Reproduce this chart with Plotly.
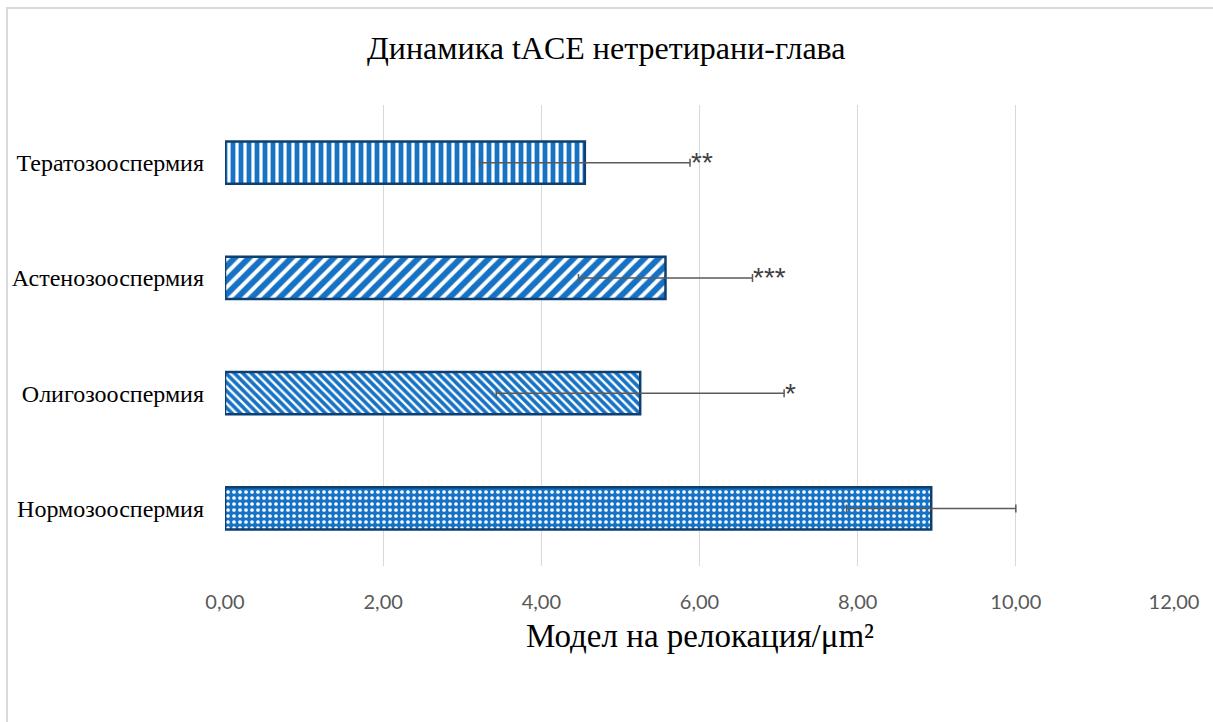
import plotly.graph_objects as go

# Groups, bottom to top as drawn on the category axis
categories = ["Нормозооспермия", "Олигозооспермия", "Астенозооспермия", "Тератозооспермия"]
means = [8.93, 5.25, 5.57, 4.55]
errors = [1.07, 1.82, 1.10, 1.33]
significance = ["", "*", "***", "**"]
x_ticks = [0, 2, 4, 6, 8, 10, 12]
x_tick_labels = ["0,00", "2,00", "4,00", "6,00", "8,00", "10,00", "12,00"]

title_text = "Динамика tACE нетретирани-глава"
x_title_text = "Модел на релокация/μm²"

W, H = 1213, 722
L, R, T, B = 225, 39, 105, 156
plot_w = W - L - R
plot_h = H - T - B

BLUE = "#1672C4"
EDGE = "#0D3F70"

fig = go.Figure()

fig.add_trace(go.Bar(
    y=categories,
    x=means,
    orientation="h",
    marker=dict(
        color=BLUE,
        line=dict(color=EDGE, width=2.5),
        pattern=dict(
            shape=[".", "\\", "/", "|"],
            size=[6, 6, 10, 8],
            solidity=[0.3, 0.4, 0.4, 0.4],
            fgcolor="white",
            bgcolor=BLUE,
            fillmode="replace",
        ),
    ),
    error_x=dict(
        type="data",
        array=errors,
        visible=True,
        color="#5A5A5A",
        thickness=1.5,
        width=4,
    ),
    hoverinfo="x+y",
    showlegend=False,
))

# Significance markers next to the upper error caps
for cat, m, e, s in zip(categories, means, errors, significance):
    if s:
        fig.add_annotation(
            x=m + e, y=cat, xref="x", yref="y",
            text=s, showarrow=False,
            xanchor="left", yanchor="middle",
            xshift=-1, yshift=0,
            font=dict(family="Liberation Sans, Arial", size=28, color="#404040"),
        )

# Chart title, centred on the whole chart area
fig.add_annotation(
    x=(W / 2 - L) / plot_w, y=(H - B - 48) / plot_h,
    xref="paper", yref="paper",
    text=title_text, showarrow=False,
    xanchor="center", yanchor="middle",
    font=dict(family="Liberation Serif, Times New Roman", size=32, color="#000000"),
)

# Value axis title
fig.add_annotation(
    x=0.5, y=(H - B - 636) / plot_h,
    xref="paper", yref="paper",
    text=x_title_text, showarrow=False,
    xanchor="center", yanchor="middle",
    font=dict(family="Liberation Serif, Times New Roman", size=33, color="#000000"),
)

# Light chart-area frame
fig.add_shape(
    type="rect", xref="paper", yref="paper",
    x0=(7 - L) / plot_w, x1=(W + 20 - L) / plot_w,
    y0=(H - B - (H + 20)) / plot_h, y1=(H - B - 8) / plot_h,
    line=dict(color="#D9D9D9", width=2),
    fillcolor="rgba(0,0,0,0)",
    layer="below",
)

fig.update_layout(
    width=W, height=H,
    margin=dict(l=L, r=R, t=T, b=B, autoexpand=False),
    paper_bgcolor="white",
    plot_bgcolor="white",
    bargap=0.635,
    xaxis=dict(
        range=[0, 12],
        tickvals=x_ticks,
        ticktext=x_tick_labels,
        showgrid=True,
        gridcolor="#D9D9D9",
        gridwidth=1,
        zeroline=False,
        showline=False,
        ticks="",
        ticklabelstandoff=22,
        tickfont=dict(family="Lato, Arial", size=20, color="#595959"),
        fixedrange=True,
    ),
    yaxis=dict(
        categoryorder="array",
        categoryarray=categories,
        showgrid=False,
        zeroline=False,
        showline=False,
        ticks="",
        ticklabelstandoff=20,
        tickfont=dict(family="Liberation Serif, Times New Roman", size=24, color="#000000"),
        fixedrange=True,
    ),
)

fig.write_html("out.html")
